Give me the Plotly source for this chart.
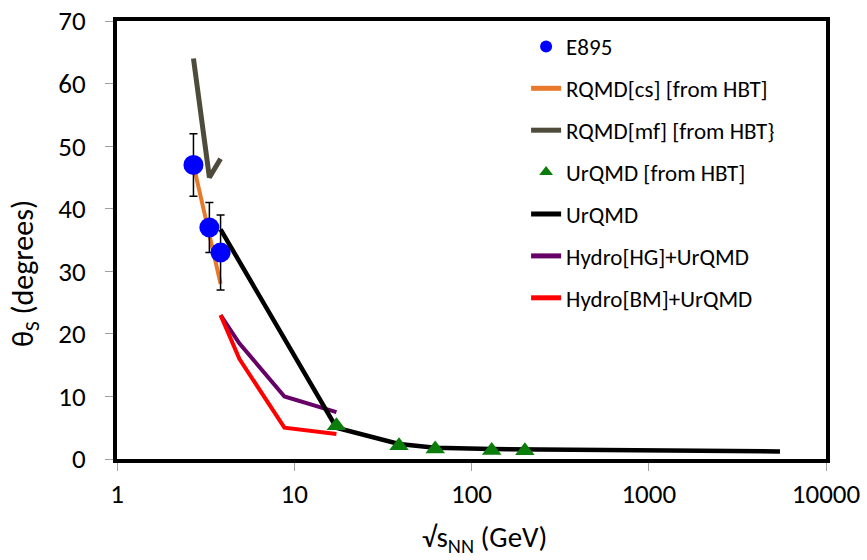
import plotly.graph_objects as go

# E895 data
e895_x = [2.70, 3.32, 3.84]
e895_y = [47, 37, 33]
e895_err = [5, 4, 6]

# RQMD[cs] [from HBT]
rqmd_cs_x = [2.70, 3.32, 3.84]
rqmd_cs_y = [47, 36, 28]

# RQMD[mf] [from HBT}
rqmd_mf_x = [2.70, 3.32, 3.84]
rqmd_mf_y = [64, 45, 48]

# UrQMD [from HBT]
urqmd_hbt_x = [17.3, 39, 62.4, 130, 200]
urqmd_hbt_y = [5.3, 2.1, 1.6, 1.35, 1.3]

# UrQMD
urqmd_x = [3.84, 17.3, 39, 62.4, 130, 200, 2760, 5500]
urqmd_y = [36.7, 5.0, 2.4, 1.8, 1.6, 1.55, 1.35, 1.2]

# Hydro[HG]+UrQMD
hg_x = [3.84, 4.9, 8.8, 17.3]
hg_y = [23, 18.5, 10, 7.5]

# Hydro[BM]+UrQMD
bm_x = [3.84, 4.9, 8.8, 17.3]
bm_y = [23, 16, 5, 4]

x_tickvals = [1, 10, 100, 1000, 10000]
x_ticktext = ["1", "10", "100", "1000", "10000"]
y_tickvals = [0, 10, 20, 30, 40, 50, 60, 70]

FONT = "Carlito, Calibri, Lato, sans-serif"

fig = go.Figure()

fig.add_trace(go.Scatter(x=rqmd_cs_x, y=rqmd_cs_y, mode="lines", name="RQMD[cs] [from HBT]",
                         line=dict(color="#E8782A", width=4), legendrank=2, legendgroup="b"))
fig.add_trace(go.Scatter(x=rqmd_mf_x, y=rqmd_mf_y, mode="lines", name="RQMD[mf] [from HBT}",
                         line=dict(color="#4F4B3A", width=5), legendrank=3, legendgroup="c"))
fig.add_trace(go.Scatter(x=hg_x, y=hg_y, mode="lines", name="Hydro[HG]+UrQMD",
                         line=dict(color="#660066", width=4), legendrank=6, legendgroup="f"))
fig.add_trace(go.Scatter(x=bm_x, y=bm_y, mode="lines", name="Hydro[BM]+UrQMD",
                         line=dict(color="#FF0000", width=4), legendrank=7, legendgroup="g"))
fig.add_trace(go.Scatter(x=e895_x, y=e895_y, mode="markers", name="E895",
                         marker=dict(color="#0000FF", size=20, symbol="circle"),
                         error_y=dict(type="data", array=e895_err, color="black", thickness=1.5, width=4),
                         legendrank=1, legendgroup="a"))
fig.add_trace(go.Scatter(x=urqmd_x, y=urqmd_y, mode="lines", name="UrQMD",
                         line=dict(color="black", width=4.5), legendrank=5, legendgroup="e"))
fig.add_trace(go.Scatter(x=urqmd_hbt_x, y=urqmd_hbt_y, mode="markers", name="UrQMD [from HBT]",
                         marker=dict(color="#0A7D0A", size=17, symbol="triangle-up"),
                         legendrank=4, legendgroup="d"))

fig.update_layout(
    width=867, height=560,
    margin=dict(l=117, r=41, t=21, b=101),
    plot_bgcolor="white", paper_bgcolor="white",
    font=dict(family=FONT, color="black"),
    showlegend=True,
    legend=dict(x=0.577, y=0.991, xanchor="left", yanchor="top",
                bgcolor="rgba(0,0,0,0)", font=dict(size=23, family=FONT),
                tracegroupgap=9, itemsizing="constant"),
    xaxis=dict(type="log", range=[0, 4], tickvals=x_tickvals, ticktext=x_ticktext,
               showgrid=False, zeroline=False, showline=True, linecolor="black", linewidth=4,
               mirror=True, ticks="outside", tickcolor="#A0A0A0", ticklen=8, tickwidth=1,
               tickfont=dict(size=27), ticklabelstandoff=0, automargin=False,
               ticklabeloverflow="allow"),
    yaxis=dict(range=[0, 70], tickvals=y_tickvals,
               showgrid=False, zeroline=False, showline=True, linecolor="black", linewidth=4,
               mirror=True, ticks="outside", tickcolor="#A0A0A0", ticklen=8, tickwidth=1,
               tickfont=dict(size=27), ticklabelstandoff=14, automargin=False,
               ticklabeloverflow="allow"),
    annotations=[
        dict(text="√s<sub>NN</sub> (GeV)", xref="paper", yref="paper",
             x=(484 - 117) / 709, y=(459 - 538) / 438, xanchor="center", yanchor="middle",
             showarrow=False, font=dict(size=29, family=FONT)),
        dict(text="θ<sub>S</sub> (degrees)", xref="paper", yref="paper",
             x=(24 - 117) / 709, y=(459 - 274) / 438, xanchor="center", yanchor="middle",
             textangle=-90, showarrow=False, font=dict(size=30, family=FONT)),
    ],
)

# Remove the browser's default 8px body margin so the 867x560 figure fills the window exactly.
fig.write_html("out.html", config={"displayModeBar": False},
               post_script="document.body.style.margin='0';")
